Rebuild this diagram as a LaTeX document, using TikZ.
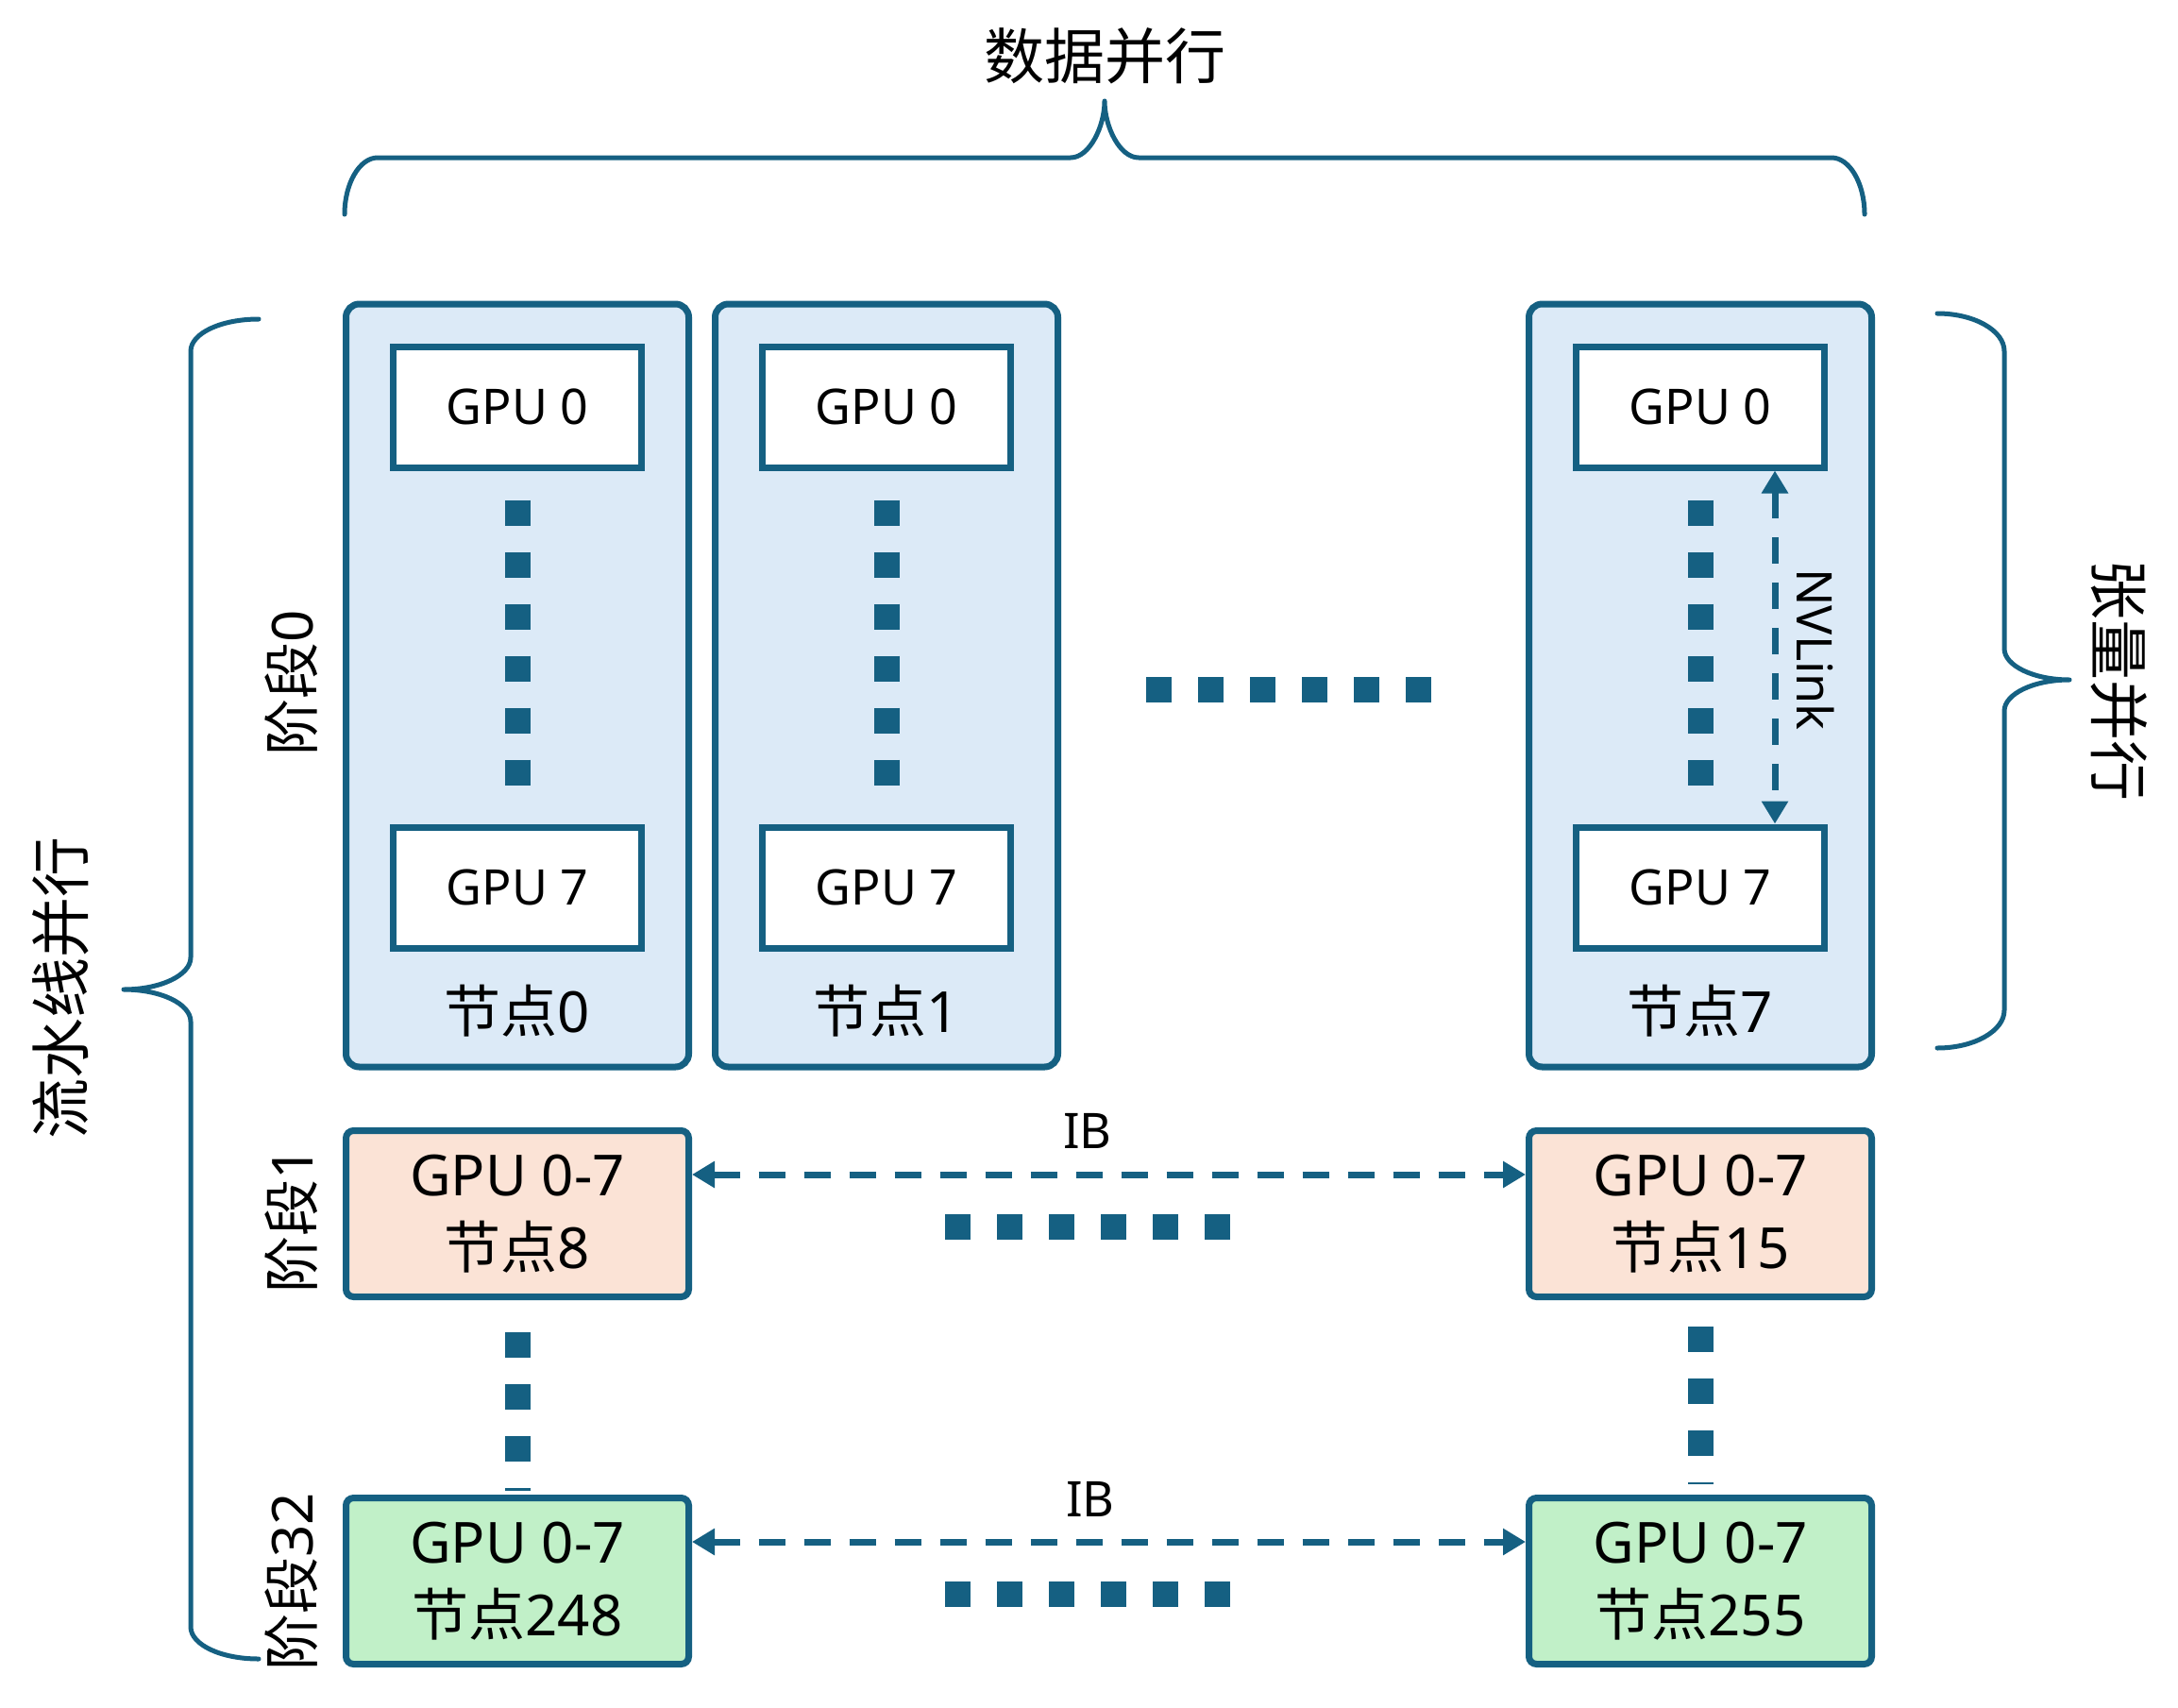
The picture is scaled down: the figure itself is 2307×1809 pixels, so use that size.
\documentclass[tikz,border=0pt]{standalone}
\usepackage{fontspec}
\setmainfont{Noto Sans}
\newfontfamily\cjkfont{Noto Sans CJK SC}
\usetikzlibrary{arrows.meta}
\definecolor{linkblue}{HTML}{156082}
\definecolor{nodeblue}{HTML}{DCEAF7}
\definecolor{stagepeach}{HTML}{FBE3D6}
\definecolor{stagegreen}{HTML}{C1F0C8}
\newcommand{\zh}[1]{{\cjkfont #1}}
\newcommand{\fsz}[1]{\fontsize{#1}{#1}\selectfont}
\begin{document}
\begin{tikzpicture}[x=1pt,y=-1pt,
  nodebox/.style={draw=linkblue, line width=7pt, fill=nodeblue, rounded corners=14pt,
    minimum width=363pt, minimum height=808pt, inner sep=0pt},
  gpubox/.style={draw=linkblue, line width=7pt, fill=white, minimum width=263pt,
    minimum height=128pt, inner sep=0pt, font=\fsz{52}},
  stagebox/.style={draw=linkblue, line width=7pt, rounded corners=8pt, minimum width=363pt,
    minimum height=176pt, inner sep=0pt, align=center, font=\fontsize{60}{77}\selectfont},
  caption/.style={inner sep=0pt, font=\fsz{60}},
  small/.style={inner sep=0pt, font=\fsz{52}},
  title/.style={inner sep=0pt, font=\fsz{64}},
  sqdots/.style={draw=linkblue, line width=27pt, dash pattern=on 27pt off 28pt},
  linkarrow/.style={draw=linkblue, line width=7pt, dash pattern=on 28pt off 20pt,
    {Triangle[length=24pt,width=27pt]}-{Triangle[length=24pt,width=27pt]}},
  brace/.style={draw=linkblue, line width=5pt, line cap=round, line join=round}]

\fill[white] (0,0) rectangle (2307,1809);
\useasboundingbox (0,0) rectangle (2307,1809);

% stage 0: three nodes with eight GPUs each
\node[nodebox] (n0) at (548,726) {};
\node[nodebox] (n1) at (939,726) {};
\node[nodebox] (n7) at (1801,726) {};

\node[gpubox] (g00) at (548,431) {GPU 0};
\node[gpubox] (g07) at (548,940) {GPU 7};
\node[gpubox] (g10) at (939,431) {GPU 0};
\node[gpubox] (g17) at (939,940) {GPU 7};
\node[gpubox] (g70) at (1801,431) {GPU 0};
\node[gpubox] (g77) at (1801,940) {GPU 7};

\node[caption] (l0) at (548,1071) {\zh{节点}0};
\node[caption] (l1) at (939,1071) {\zh{节点}1};
\node[caption] (l7) at (1801,1071) {\zh{节点}7};

\draw[sqdots] ([yshift=-31pt]g00.south) -- ([yshift=40pt]g07.north);
\draw[sqdots] ([yshift=-31pt]g10.south) -- ([yshift=40pt]g17.north);
\draw[sqdots] ([yshift=-31pt]g70.south) -- ([yshift=40pt]g77.north);
\draw[sqdots] (1214,730) -- (1516,730);

% NVLink inside node 7
\coordinate (nv) at (1880,688);
\draw[linkarrow] (g70.south -| nv) -- (g77.north -| nv);
\node[small, rotate=-90] (nvl) at (1923,688) {NVLink};

% stage 1 and stage 32
\node[stagebox, fill=stagepeach] (n8) at (548,1285.5) {GPU 0-7\\\zh{节点}8};
\node[stagebox, fill=stagepeach] (n15) at (1801,1285.5) {GPU 0-7\\\zh{节点}15};
\node[stagebox, fill=stagegreen] (n248) at (548,1674.5) {GPU 0-7\\\zh{节点}248};
\node[stagebox, fill=stagegreen] (n255) at (1801,1674.5) {GPU 0-7\\\zh{节点}255};

\coordinate (ib1) at (1152,1244);
\coordinate (ib2) at (1152,1633);
\draw[linkarrow] (n8.east |- ib1) -- (n15.west |- ib1);
\draw[linkarrow] (n248.east |- ib2) -- (n255.west |- ib2);
\node[small] (ibl1) at (1152,1198) {IB};
\node[small] (ibl2) at (1155,1588) {IB};

\draw[sqdots] (1001,1299) -- (1303,1299);
\draw[sqdots] (1001,1688) -- (1303,1688);
\draw[sqdots] ([yshift=-34pt]n8.south) -- ([yshift=4pt]n248.north);
\draw[sqdots] ([yshift=-28pt]n15.south) -- ([yshift=11pt]n255.north);

% stage labels
\node[caption, rotate=90] (s0) at (309,723) {\zh{阶段}0};
\node[caption, rotate=90] (s1) at (309,1292) {\zh{阶段}1};
\node[caption, rotate=90] (s32) at (309,1675) {\zh{阶段}32};

% data parallel brace
\draw[brace] (365,227) .. controls (365,194) and (381,167) .. (400,167) -- (1134,167)
  .. controls (1154,167) and (1170,134) .. (1170,107)
  .. controls (1170,134) and (1186,167) .. (1206,167) -- (1940,167)
  .. controls (1959,167) and (1975,194) .. (1975,227);
\node[title] (dp) at (1170,59) {\zh{数据并行}};

% tensor parallel brace
\draw[brace] (2052,332) .. controls (2091,332) and (2123,350) .. (2123,372) -- (2123,687)
  .. controls (2123,705) and (2154,720) .. (2192,720)
  .. controls (2154,720) and (2123,735) .. (2123,753) -- (2123,1070)
  .. controls (2123,1092) and (2091,1110) .. (2052,1110);
\node[title, rotate=-90] (tp) at (2245,720) {\zh{张量并行}};

% pipeline parallel brace
\draw[brace] (274,338) .. controls (234,338) and (202,353) .. (202,372) -- (202,1014)
  .. controls (202,1033) and (170,1048) .. (131,1048)
  .. controls (170,1048) and (202,1063) .. (202,1082) -- (202,1723)
  .. controls (202,1742) and (234,1757) .. (274,1757);
\node[title, rotate=90] (pp) at (64,1046) {\zh{流水线并行}};

\end{tikzpicture}
\end{document}
